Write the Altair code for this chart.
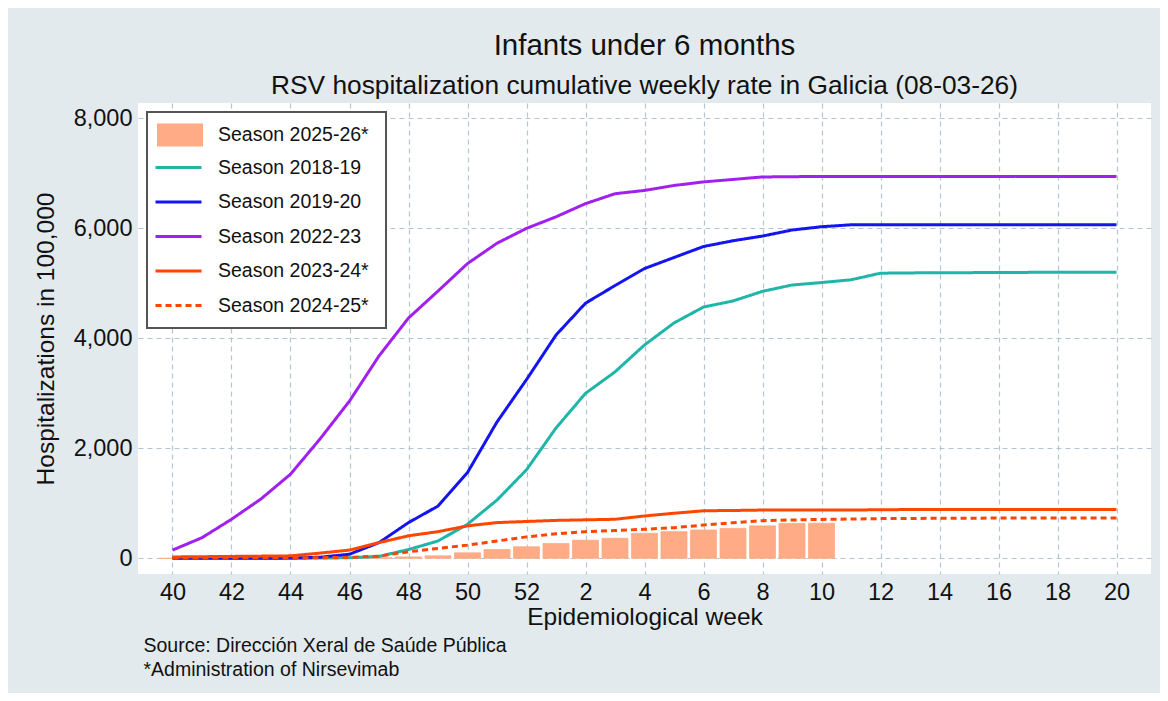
import altair as alt
import pandas as pd

# Epidemiological weeks (positions 0..32)
weeks = list(range(40, 53)) + list(range(1, 21))

season_names = ["Season 2018-19", "Season 2019-20", "Season 2022-23",
                "Season 2023-24*", "Season 2024-25*"]
season_colors = ["#1FB5A8", "#1414F0", "#A020F0", "#FF4500", "#FF4500"]
season_dashes = [[1, 0], [1, 0], [1, 0], [1, 0], [6, 4]]

s_2018_19 = [0, 0, 0, 0, 0, 5, 10, 35, 160, 315, 620, 1060, 1610,
             2370, 3000, 3390, 3880, 4280, 4570, 4680, 4855, 4970, 5015,
             5065, 5185, 5190, 5195, 5195, 5198, 5200, 5200, 5200, 5200]
s_2019_20 = [0, 0, 0, 0, 5, 20, 75, 285, 650, 950, 1560, 2480, 3250,
             4060, 4640, 4960, 5270, 5470, 5670, 5775, 5860, 5970, 6030,
             6065, 6065, 6065, 6065, 6065, 6065, 6065, 6065, 6065, 6065]
s_2022_23 = [150, 375, 710, 1080, 1530, 2170, 2860, 3680, 4370, 4860, 5360, 5730, 6000,
             6210, 6450, 6630, 6690, 6780, 6845, 6890, 6935, 6940, 6945,
             6945, 6945, 6945, 6945, 6945, 6945, 6945, 6945, 6945, 6945]
s_2023_24 = [25, 30, 35, 40, 45, 95, 150, 285, 410, 485, 590, 650, 670,
             690, 700, 710, 770, 820, 865, 870, 878, 878, 880,
             880, 882, 888, 890, 890, 890, 890, 890, 890, 890]
s_2024_25 = [5, 5, 8, 10, 10, 12, 18, 40, 120, 180, 240, 315, 390,
             445, 485, 505, 528, 558, 605, 648, 685, 697, 708,
             715, 722, 725, 728, 730, 732, 733, 734, 735, 735]

bar_season = "Season 2025-26*"
bar_color = "#FFAB85"
s_2025_26 = [0, 0, 0, 0, 0, 0, 0, 10, 25, 45, 100, 160, 210,
             270, 330, 365, 455, 485, 515, 545, 590, 635, 637]

title_text = "Infants under 6 months"
subtitle_text = "RSV hospitalization cumulative weekly rate in Galicia (08-03-26)"
footnote_lines = ["Source: Dirección Xeral de Saúde Pública", "*Administration of Nirsevimab"]

FONT = "Liberation Sans"

rows = []
for name, vals in zip(season_names, [s_2018_19, s_2019_20, s_2022_23, s_2023_24, s_2024_25]):
    for i, v in enumerate(vals):
        rows.append({"idx": i, "week": weeks[i], "season": name, "value": v})
lines_df = pd.DataFrame(rows)
bars_df = pd.DataFrame({"idx": list(range(len(s_2025_26))),
                        "season": [bar_season] * len(s_2025_26),
                        "value": s_2025_26})

W, H = 1013, 471

x_enc = alt.X("idx:Q",
              scale=alt.Scale(domain=[-1, 33], nice=False, zero=False),
              axis=alt.Axis(values=list(range(0, 33, 2)),
                            labelExpr="datum.value <= 12 ? datum.value + 40 : datum.value - 12",
                            labelFontSize=23.5, labelColor="#111111", labelFont=FONT,
                            labelBaseline="alphabetic", labelPadding=25,
                            ticks=False, tickSize=0, domain=False,
                            grid=True, gridColor="#B3C6CE", gridDash=[5, 4], gridWidth=1.2,
                            title="Epidemiological week", titleFontSize=24.5,
                            titleFontWeight="normal", titleColor="#111111", titleFont=FONT,
                            titleBaseline="alphabetic", titleY=50))
y_enc = alt.Y("value:Q",
              scale=alt.Scale(domain=[-285, 8280], nice=False, zero=False),
              axis=alt.Axis(values=[0, 2000, 4000, 6000, 8000], format=",.0f",
                            labelFontSize=23.5, labelColor="#111111", labelFont=FONT,
                            labelPadding=6, ticks=False, tickSize=0, domain=False,
                            grid=True, gridColor="#B3C6CE", gridDash=[5, 4], gridWidth=1.2,
                            title="Hospitalizations in 100,000", titleFontSize=24.5,
                            titleFontWeight="normal", titleColor="#111111", titleFont=FONT,
                            titleAngle=270, titleAlign="center", titleBaseline="alphabetic",
                            titleX=-85, titleY=H / 2))

bars = alt.Chart(bars_df).mark_bar(size=26, stroke=bar_color, strokeWidth=0.8).encode(
    x=x_enc,
    y=y_enc,
    y2=alt.datum(0),
    fill=alt.Fill("season:N",
                  scale=alt.Scale(domain=[bar_season], range=[bar_color]),
                  legend=alt.Legend(title=None, orient="none", legendX=19, legendY=9,
                                    symbolType="M-1,-0.5L1,-0.5L1,0.5L-1,0.5Z",
                                    symbolSize=2116, symbolStrokeWidth=0,
                                    labelFontSize=19.5, labelFont=FONT, labelColor="#111111",
                                    labelOffset=15, padding=0, labelLimit=400)),
)

line_legend = alt.Legend(title=None, orient="none", legendX=16, legendY=40,
                         symbolType="stroke", symbolSize=2116, symbolStrokeWidth=3,
                         labelFontSize=19.5, labelFont=FONT, labelColor="#111111",
                         labelOffset=15, padding=0, rowPadding=0.5, labelLimit=400)

lines = alt.Chart(lines_df).mark_line(strokeWidth=3).encode(
    x=x_enc,
    y=y_enc,
    stroke=alt.Stroke("season:N", scale=alt.Scale(domain=season_names, range=season_colors),
                      legend=line_legend),
    strokeDash=alt.StrokeDash("season:N", scale=alt.Scale(domain=season_names, range=season_dashes),
                              legend=line_legend),
    detail="season:N",
)

box = alt.Chart(pd.DataFrame({"a": [0]})).mark_rect(
    fill="white", stroke="#555555", strokeWidth=2).encode(
    x=alt.value(9), x2=alt.value(248), y=alt.value(9), y2=alt.value(225))

foot = alt.Chart(pd.DataFrame({"t": ["\n".join(footnote_lines)]})).mark_text(
    align="left", baseline="alphabetic", lineBreak="\n", lineHeight=24,
    fontSize=19.5, font=FONT, color="#111111").encode(
    text="t:N", x=alt.value(5.5), y=alt.value(549))

chart = alt.layer(bars, lines, box, foot).properties(
    width=W, height=H,
    autosize=alt.AutoSizeParams(type="none"),
    padding={"left": 130, "top": 95, "right": 9, "bottom": 119},
    title=alt.TitleParams(text=title_text, subtitle=subtitle_text,
                          anchor="middle", frame="group",
                          fontSize=29.5, subtitleFontSize=26.3, font=FONT, subtitleFont=FONT,
                          fontWeight="normal", color="#111111", subtitleColor="#111111",
                          offset=3, subtitlePadding=11),
).configure(
    background="#E3EAED", font=FONT
).configure_view(fill="white", strokeWidth=0)

chart.save("out.html", embed_options={"renderer": "svg", "actions": False})
